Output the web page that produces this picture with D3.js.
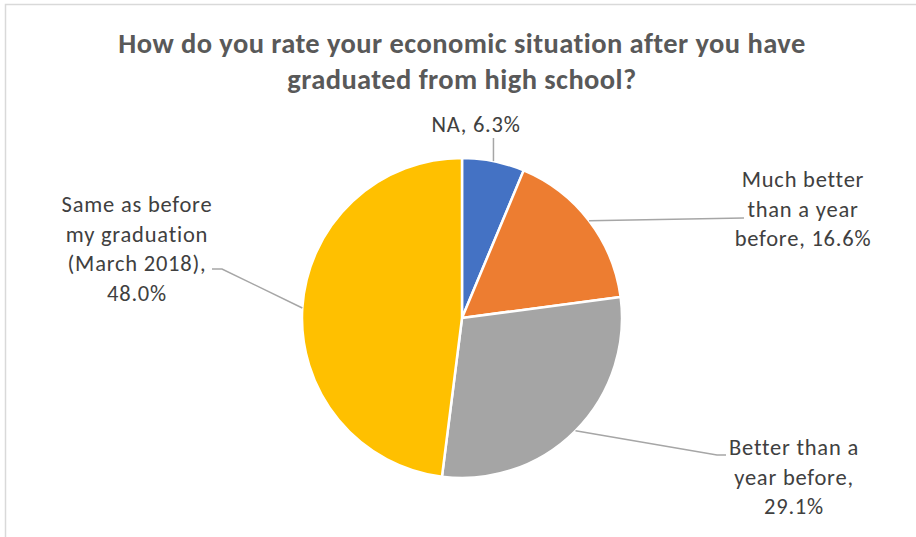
<!DOCTYPE html>
<html><head><meta charset="utf-8">
<script src="https://cdn.jsdelivr.net/npm/d3@7"></script>
<style>body{margin:0;background:#fff;}svg{display:block;}</style>
</head><body>
<svg id="c" width="916" height="537"></svg>
<script>
const categories = ["NA", "Much better than a year before", "Better than a year before", "Same as before my graduation (March 2018)"];
const values = [6.3, 16.6, 29.1, 48.0];
const colors = ["#4472C4", "#ED7D31", "#A5A5A5", "#FFC000"];
const labelLines = [
  ["NA, 6.3%"],
  ["Much better", "than a year", "before, 16.6%"],
  ["Better than a", "year before,", "29.1%"],
  ["Same as before", "my graduation", "(March 2018),", "48.0%"]
];
const titleLines = ["How do you rate your economic situation after you have", "graduated from high school?"];

// layout
const W = 916, H = 537, cx = 462, cy = 318, R = 160;
const labelPos = [
  {x: 476, y: 125, elbow: null},
  {x: 803, y: 180, elbow: [744, 218]},
  {x: 794, y: 448, elbow: [717, 455, 726, 455]},
  {x: 137, y: 205, elbow: [222, 269, 212, 269]}
];
const lineH = 29.5;
const FONT = "Carlito, Lato, sans-serif";
const TITLE_SIZE = 28.5, LABEL_SIZE = 22.5;

const svg = d3.select("#c");
svg.append("rect").attr("x", 5.5).attr("y", 4.5).attr("width", 930).attr("height", 560)
  .attr("fill", "#fff").attr("stroke", "#D9D9D9").attr("stroke-width", 1.5);

function fitSpacing(sel, target) {
  const node = sel.node();
  const w = node.getComputedTextLength();
  const n = node.textContent.length;
  return (target - w) / Math.max(1, n - 1);
}

const title = svg.append("g").selectAll("text").data(titleLines).join("text")
  .attr("x", cx).attr("y", (d, i) => 53 + i * 36)
  .attr("text-anchor", "middle")
  .attr("font-family", FONT).attr("font-weight", "bold")
  .attr("font-size", TITLE_SIZE).attr("fill", "#595959").text(d => d);
const tls = fitSpacing(d3.select(title.nodes()[0]), 686);
title.attr("letter-spacing", tls);

const pie = d3.pie().sort(null).value(d => d)(values);
const arc = d3.arc().innerRadius(0).outerRadius(R);
const g = svg.append("g").attr("transform", `translate(${cx},${cy})`);
g.selectAll("path").data(pie).join("path")
  .attr("d", arc).attr("fill", (d, i) => colors[i])
  .attr("stroke", "#fff").attr("stroke-width", 2.5).attr("stroke-linejoin", "round");

// leader lines
pie.forEach((d, i) => {
  const a = (d.startAngle + d.endAngle) / 2;
  const px = cx + R * Math.sin(a), py = cy - R * Math.cos(a);
  const lp = labelPos[i];
  let pts;
  if (i === 0) pts = [[px, py], [px, 138]];
  else if (i === 1) pts = [[px, py], [lp.elbow[0], lp.elbow[1]]];
  else pts = [[px, py], [lp.elbow[0], lp.elbow[1]], [lp.elbow[2], lp.elbow[3]]];
  svg.append("path").attr("d", d3.line()(pts)).attr("fill", "none")
    .attr("stroke", "#A6A6A6").attr("stroke-width", 1.5);
});

const labelTexts = [];
labelLines.forEach((lines, i) => {
  const lp = labelPos[i];
  const t = svg.append("text").attr("text-anchor", "middle")
    .attr("font-family", FONT).attr("font-size", LABEL_SIZE).attr("fill", "#404040");
  t.selectAll("tspan").data(lines).join("tspan")
    .attr("x", lp.x).attr("y", (d, j) => lp.y + 7 + j * lineH).text(d => d);
  labelTexts.push(t);
});
const probe = svg.append("text").attr("font-family", FONT).attr("font-size", LABEL_SIZE).text(labelLines[3][0]);
const lls = fitSpacing(probe, 150);
probe.remove();
labelTexts.forEach(t => t.attr("letter-spacing", lls));
</script>
</body></html>
